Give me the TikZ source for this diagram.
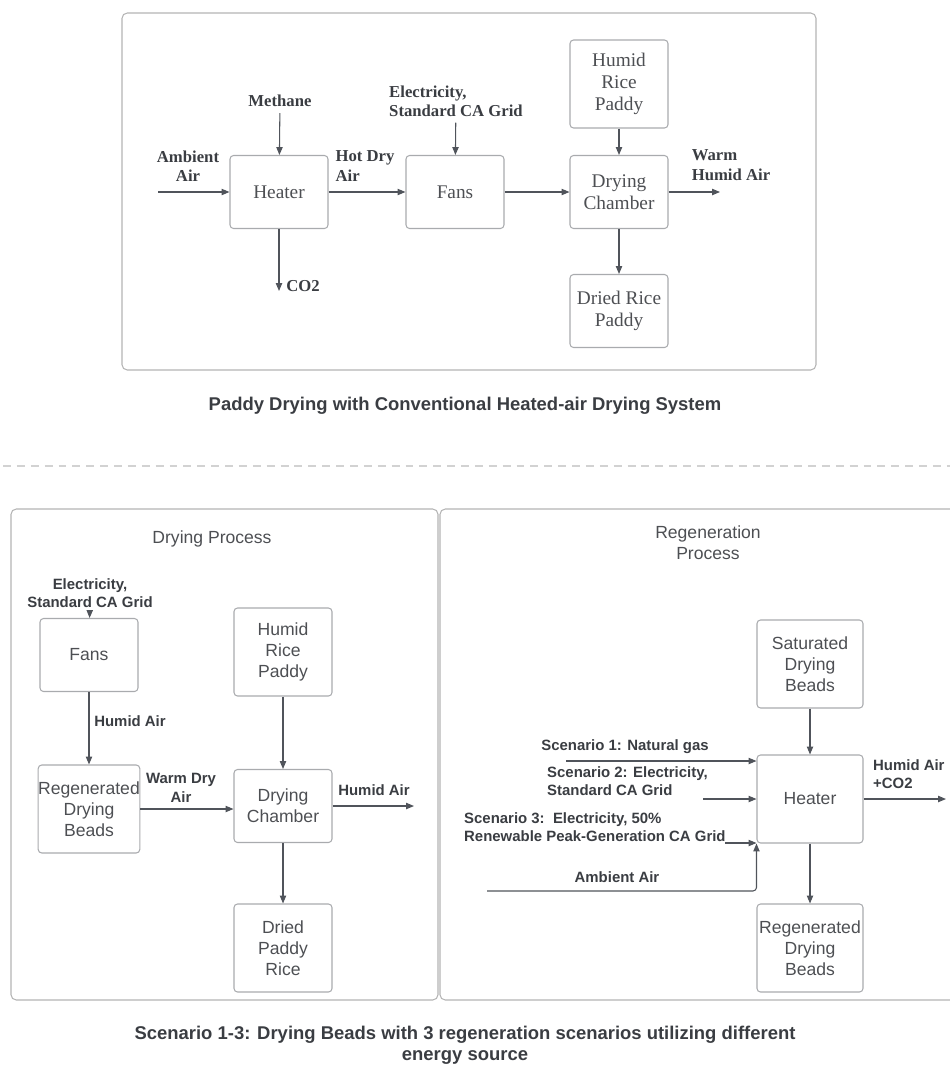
\documentclass[tikz,border=0pt]{standalone}
\usepackage{fontspec}
\setmainfont{Liberation Serif}
\setsansfont{Liberation Sans}
\usepackage{tikz}
\usetikzlibrary{arrows.meta}
\definecolor{BoxEdge}{HTML}{A9ABAE}
\definecolor{FrameEdge}{HTML}{B4B4B4}
\definecolor{DashGray}{HTML}{D2D2D2}
\definecolor{InkGray}{HTML}{4D4F53}
\definecolor{LabelInk}{HTML}{3A3D42}
\definecolor{ArrowInk}{HTML}{50545B}

\begin{document}
\begin{tikzpicture}[x=0.02cm, y=-0.02cm,
      box/.style={draw=BoxEdge, line width=0.6pt, rounded corners=2pt, minimum width=1.96cm,
                  minimum height=1.46cm, align=center, text=InkGray, inner xsep=1pt},
      tall/.style={minimum height=1.76cm},
      wide/.style={minimum width=2.12cm},
      serifbox/.style={box, font=\fontsize{11}{12.5}\selectfont},
      sansbox/.style={box, font=\sffamily\fontsize{10}{12}\selectfont},
      seriflabel/.style={font=\bfseries\fontsize{9.5}{11}\selectfont, text=LabelInk, align=center},
      sanslabel/.style={font=\sffamily\bfseries\fontsize{8.5}{10.5}\selectfont, text=LabelInk, align=center},
      frame/.style={draw=FrameEdge, line width=0.6pt, rounded corners=3pt},
      flow/.style={-{Triangle[length=4.5pt,width=3.6pt]}, draw=ArrowInk, line width=0.6pt}]
      \useasboundingbox (0,0) rectangle (950,1065);

      % Conventional system
      \draw[frame] (122,13) rectangle (816,370);
      \node[serifbox] (heater) at (279,192) {Heater};
      \node[serifbox] (fans) at (455,192) {Fans};
      \node[serifbox] (chamber) at (619,192) {Drying\\Chamber};
      \node[serifbox, tall] (paddy) at (619,84) {Humid\\Rice\\Paddy};
      \node[serifbox] (dried) at (619,311) {Dried Rice\\Paddy};

      \node[seriflabel] (ambient) at (188,166) {Ambient\\Air};
      \node[seriflabel] (methane) at (280,101) {Methane};
      \node[seriflabel] (co2) at (303,286) {CO2};
      \node[seriflabel, align=left] (hotdry) at (365,166) {Hot Dry\\Air};
      \node[seriflabel, align=left] (elec) at (456,101) {Electricity,\\Standard CA Grid};
      \node[seriflabel, align=left] (warm) at (731,165) {Warm\\Humid Air};
      \coordinate (ambin) at (158,192);
      \coordinate (co2out) at (279,291);
      \coordinate (warmout) at (720,192);

      \draw[flow] (ambin) -- (heater);
      \draw[flow] (methane) -- (heater);
      \draw[flow] (heater) -- (co2out);
      \draw[flow] (heater) -- (fans);
      \draw[flow] (elec) -- (fans);
      \draw[flow] (fans) -- (chamber);
      \draw[flow] (paddy) -- (chamber);
      \draw[flow] (chamber) -- (dried);
      \draw[flow] (chamber) -- (warmout);

      \node[font=\sffamily\bfseries\fontsize{10.5}{12.5}\selectfont, text=LabelInk] (toptitle) at (465,406)
        {Paddy Drying with Conventional Heated-air Drying System};

      % Separator
      \draw[DashGray, line width=1.1pt, dash pattern=on 4.5pt off 3.4pt] (3,466) -- (950,466);

      % Drying process
      \draw[frame] (11,509) rectangle (438,1000);
      \node[font=\sffamily\fontsize{10}{12}\selectfont, text=InkGray] (dryhead) at (212,539) {Drying Process};
      \node[sansbox] (bfans) at (89,655) {Fans};
      \node[sansbox, tall, inner xsep=0pt] (bregen) at (89,809) {Regenerated\\Drying\\Beads};
      \node[sansbox, tall] (bpaddy) at (283,652) {Humid\\Rice\\Paddy};
      \node[sansbox] (bchamber) at (283,806) {Drying\\Chamber};
      \node[sansbox, tall] (bdried) at (283,948) {Dried\\Paddy\\Rice};

      \node[sanslabel] (belec) at (90,593) {Electricity,\\Standard CA Grid};
      \node[sanslabel] (bhumid) at (130,721) {Humid Air};
      \node[sanslabel] (warmdry) at (181,788) {Warm Dry\\Air};
      \node[sanslabel] (bout) at (374,790) {Humid Air};
      \coordinate (bexit) at (414,806);

      \draw[flow] (belec) -- (bfans);
      \draw[flow] (bfans) -- (bregen);
      \draw[flow] (bregen) -- (bregen -| bchamber.west);
      \draw[flow] (bpaddy) -- (bchamber);
      \draw[flow] (bchamber) -- (bdried);
      \draw[flow] (bchamber) -- (bexit);

      % Regeneration process
      \draw[frame] (440,509) rectangle (962,1000);
      \node[font=\sffamily\fontsize{10}{12}\selectfont, text=InkGray, align=center] (reghead) at (708,543) {Regeneration\\Process};
      \node[sansbox, tall, wide] (sat) at (810,664) {Saturated\\Drying\\Beads};
      \node[sansbox, tall, wide] (rheater) at (810,799) {Heater};
      \node[sansbox, tall, wide] (rregen) at (810,948) {Regenerated\\Drying\\Beads};

      \node[sanslabel] (scen1) at (625,747) {Scenario 1: Natural gas};
      \node[sanslabel, align=left, anchor=west] (scen2) at (541,781) {Scenario 2: Electricity,\\ Standard CA Grid};
      \node[sanslabel, align=left, anchor=west] (scen3) at (458,827) {Scenario 3:\ \ Electricity, 50\%\\ Renewable Peak-Generation CA Grid};
      \node[sanslabel] (ramb) at (617,877) {Ambient Air};
      \node[sanslabel, align=left, anchor=west] (rout) at (867,774) {Humid Air\\ +CO2};
      \coordinate (s1in) at (566,761);
      \coordinate (s2in) at (703,799);
      \coordinate (s3in) at (725,843);
      \coordinate (ambin2) at (487,891);
      \coordinate (rexit) at (946,799);

      \draw[flow] (s1in) -- (s1in -| rheater.west);
      \draw[flow] (s2in) -- (rheater);
      \draw[flow] (s3in) -- (s3in -| rheater.west);
      \draw[flow, rounded corners=2pt] (ambin2) -| (rheater.south west);
      \draw[flow] (sat) -- (rheater);
      \draw[flow] (rheater) -- (rregen);
      \draw[flow] (rheater) -- (rexit);

      \node[font=\sffamily\bfseries\fontsize{10.5}{12}\selectfont, text=LabelInk, align=center] (bottitle) at (465,1045)
        {Scenario 1-3: Drying Beads with 3 regeneration scenarios utilizing different\\energy source};
    \end{tikzpicture}
\end{document}
